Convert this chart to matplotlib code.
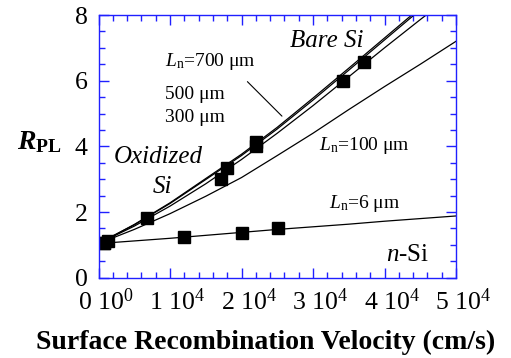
import matplotlib
matplotlib.use("Agg")
import matplotlib.pyplot as plt
import matplotlib.transforms as mtransforms
from matplotlib.ticker import MultipleLocator

plt.rcParams["font.family"] = ["Liberation Serif", "DejaVu Serif"]
plt.rcParams["mathtext.fontset"] = "custom"
plt.rcParams["mathtext.rm"] = "Liberation Serif"
plt.rcParams["mathtext.it"] = "Liberation Serif:italic"
plt.rcParams["mathtext.bf"] = "Liberation Serif:bold"
plt.rcParams["mathtext.bfit"] = "Liberation Serif:italic:bold"

# ── Data ───────────────────────────────────────────────────────────────────────
s_grid = [0, 5000, 10000, 15000, 20000, 25000, 30000, 35000, 40000, 45000, 50000]

rpl_700 = [1.04, 1.62, 2.28, 3.02, 3.76, 4.58, 5.47, 6.38, 7.30, 8.22, 9.10]
rpl_500 = [1.04, 1.61, 2.26, 2.99, 3.72, 4.53, 5.41, 6.32, 7.24, 8.16, 9.05]
rpl_300 = [1.04, 1.57, 2.18, 2.86, 3.60, 4.40, 5.24, 6.12, 7.00, 7.86, 8.70]
rpl_100 = [1.04, 1.47, 1.95, 2.48, 3.05, 3.72, 4.40, 5.12, 5.82, 6.50, 7.20]
rpl_6   = [1.04, 1.12, 1.20, 1.29, 1.38, 1.47, 1.55, 1.63, 1.72, 1.80, 1.88]

# measured points, oxidized / bare Si
meas_s   = [750, 1300, 6800, 17100, 17900, 22050, 22050, 34150, 37200]
meas_rpl = [1.07, 1.12, 1.81, 3.00, 3.34, 4.02, 4.13, 6.00, 6.57]

# measured points, n-Si (Ln = 6 um)
nsi_s   = [750, 12000, 20030, 25050]
nsi_rpl = [1.07, 1.23, 1.35, 1.51]

x_ticks  = [0, 10000, 20000, 30000, 40000, 50000]
x_labels = ["0 10$^{0}$", "1 10$^{4}$", "2 10$^{4}$", "3 10$^{4}$",
            "4 10$^{4}$", "5 10$^{4}$"]
y_ticks  = [0, 2, 4, 6, 8]

# ── Figure ─────────────────────────────────────────────────────────────────────
fig = plt.figure(figsize=(5.11, 3.58), dpi=100)
ax = fig.add_axes([0.1928, 0.2243, 0.6996, 0.7338])

for y in (rpl_700, rpl_500, rpl_300, rpl_100, rpl_6):
    ax.plot(s_grid, y, color="black", lw=0.9)

ax.plot(meas_s, meas_rpl, ls="none", marker="s", ms=8, color="black")
ax.plot(nsi_s, nsi_rpl, ls="none", marker="s", ms=8, color="black")

ax.set_xlim(0, 50000)
ax.set_ylim(0, 8)

blue = "#2020ff"
for sp in ax.spines.values():
    sp.set_color(blue)
    sp.set_linewidth(1.0)

ax.set_xticks(x_ticks)
ax.set_xticklabels(x_labels)
ax.set_yticks(y_ticks)
ax.xaxis.set_minor_locator(MultipleLocator(2000))
ax.yaxis.set_minor_locator(MultipleLocator(0.5))
ax.tick_params(which="both", direction="in", top=True, right=True,
               color=blue, labelsize=18.5, labelcolor="black")
ax.tick_params(which="major", length=7, width=1.0)
ax.tick_params(which="minor", length=4, width=1.0)
ax.tick_params(axis="x", pad=8)
ax.tick_params(axis="y", pad=8)

# labels sit a little right of their ticks in the original
shift = mtransforms.ScaledTranslation(7 / 100, 0, fig.dpi_scale_trans)
for lab in ax.get_xticklabels():
    lab.set_transform(lab.get_transform() + shift)

fig.text(266 / 511, 1 - 342 / 358, "Surface Recombination Velocity (cm/s)",
         fontsize=20, fontweight="bold", ha="center", va="center")
fig.text(17 / 511, 1 - 142 / 358, r"$\mathbfit{R}_{\mathbf{PL}}$",
         fontsize=20, ha="left", va="center")

# ── Annotations ────────────────────────────────────────────────────────────────
lab_fs = 14
ax.text(9290, 6.57, r"$\mathit{L}_{\mathrm{n}}$=700 μm", fontsize=lab_fs,
        va="center", ha="left")
ax.text(9290, 5.57, "500 μm", fontsize=lab_fs, va="center", ha="left")
ax.text(9290, 4.87, "300 μm", fontsize=lab_fs, va="center", ha="left")
ax.annotate("", xy=(25930, 4.86), xytext=(20550, 6.03),
            arrowprops=dict(arrowstyle="-", color="black", lw=0.8))

ax.text(8390, 3.68, "Oxidized", fontsize=18, style="italic",
        ha="center", va="center")
ax.text(8940, 2.75, "Si", fontsize=18, style="italic",
        ha="center", va="center")
ax.text(31900, 7.2, "Bare Si", fontsize=18, style="italic",
        ha="center", va="center")

ax.text(30820, 4.04, r"$\mathit{L}_{\mathrm{n}}$=100 μm", fontsize=lab_fs,
        va="center", ha="left")
ax.text(32270, 2.27, r"$\mathit{L}_{\mathrm{n}}$=6 μm", fontsize=lab_fs,
        va="center", ha="left")
ax.text(46300, 0.69, r"$\mathit{n}$-Si", fontsize=18, va="center", ha="right")

fig.savefig("out.png", dpi=100)
